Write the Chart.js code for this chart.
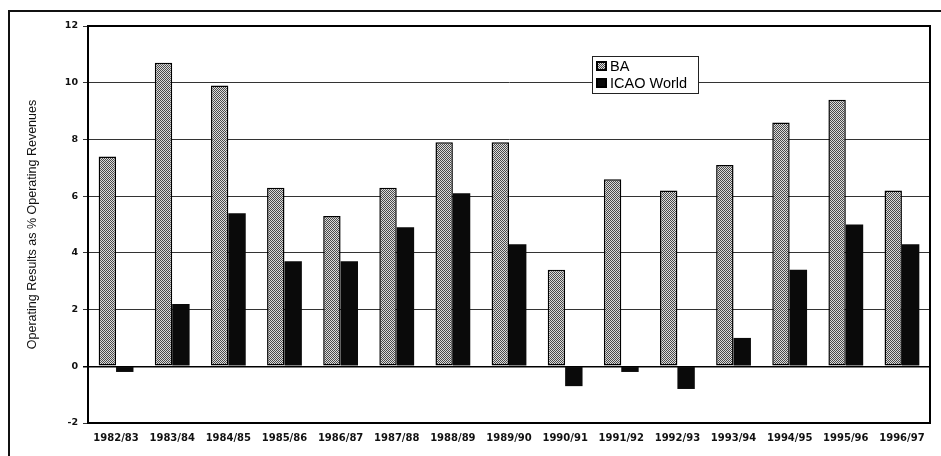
<!DOCTYPE html>
<html>
<head>
<meta charset="utf-8">
<script src="https://cdn.jsdelivr.net/npm/chart.js@4.4.1/dist/chart.umd.min.js"></script>
<style>
  html, body { margin: 0; padding: 0; background: #fff; }
  #wrap { width: 941px; height: 456px; position: relative; }
</style>
</head>
<body>
<div id="wrap"><canvas id="c" width="941" height="456"></canvas></div>
<script>
const categories = ["1982/83","1983/84","1984/85","1985/86","1986/87","1987/88","1988/89","1989/90","1990/91","1991/92","1992/93","1993/94","1994/95","1995/96","1996/97"];
const baValues   = [7.4, 10.7, 9.9, 6.3, 5.3, 6.3, 7.9, 7.9, 3.4, 6.6, 6.2, 7.1, 8.6, 9.4, 6.2];
const icaoValues = [-0.2, 2.2, 5.4, 3.7, 3.7, 4.9, 6.1, 4.3, -0.7, -0.2, -0.8, 1.0, 3.4, 5.0, 4.3];
const seriesNames = ["BA", "ICAO World"];
const yTitle = "Operating Results as % Operating Revenues";
const yMin = -2, yMax = 12, yStep = 2;

// stipple pattern for BA bars
function makePattern() {
  const pc = document.createElement('canvas');
  pc.width = 2; pc.height = 2;
  const p = pc.getContext('2d');
  p.fillStyle = '#dcdcdc'; p.fillRect(0, 0, 2, 2);
  p.fillStyle = '#4a4a4a'; p.fillRect(0, 0, 1, 1); p.fillRect(1, 1, 1, 1);
  return document.getElementById('c').getContext('2d').createPattern(pc, 'repeat');
}
const baFill = makePattern();

const framePlugin = {
  id: 'frame',
  beforeDraw(chart) {
    const ctx = chart.ctx;
    ctx.save();
    ctx.fillStyle = '#fff';
    ctx.fillRect(0, 0, chart.width, chart.height);
    ctx.strokeStyle = '#111';
    ctx.lineWidth = 2;
    ctx.strokeRect(9, 11, chart.width + 20, chart.height + 20);
    ctx.restore();
  },
  afterDatasetsDraw(chart) {
    const a = chart.chartArea, ctx = chart.ctx;
    ctx.save();
    ctx.strokeStyle = '#000';
    ctx.lineWidth = 2;
    ctx.beginPath();
    ctx.moveTo(a.left, a.top); ctx.lineTo(a.right, a.top); ctx.lineTo(a.right, a.bottom);
    ctx.stroke();
    // legend
    const lx = 592, ly = 56, lw = 106, lh = 37;
    ctx.fillStyle = '#fff';
    ctx.fillRect(lx, ly, lw, lh);
    ctx.lineWidth = 1;
    ctx.strokeStyle = '#222';
    ctx.strokeRect(lx + 0.5, ly + 0.5, lw, lh);
    const fills = [baFill, '#0a0a0a'];
    ctx.font = '14.5px "Liberation Sans", Arial, sans-serif';
    ctx.textBaseline = 'middle';
    ctx.textAlign = 'left';
    seriesNames.forEach((n, i) => {
      const cy = ly + 10 + i * 17;
      ctx.fillStyle = '#000';
      ctx.fillRect(lx + 4, cy - 5, 11, 10);
      ctx.fillStyle = fills[i];
      ctx.fillRect(lx + 6, cy - 3, 7, 6);
      ctx.fillStyle = '#000';
      ctx.fillText(n, lx + 18, cy + 1);
    });
    ctx.restore();
  }
};

new Chart(document.getElementById('c'), {
  type: 'bar',
  data: {
    labels: categories,
    datasets: [
      { label: seriesNames[0], data: baValues, backgroundColor: baFill, borderColor: '#000', borderWidth: 1.5, borderSkipped: false },
      { label: seriesNames[1], data: icaoValues, backgroundColor: '#0a0a0a', borderWidth: 0 }
    ]
  },
  options: {
    responsive: false,
    animation: false,
    events: [],
    layout: { padding: { left: 8, top: 26, right: 11, bottom: 0 } },
    datasets: { bar: { categoryPercentage: 0.62, barPercentage: 1.0 } },
    plugins: { legend: { display: false }, tooltip: { enabled: false } },
    scales: {
      x: {
        grid: { display: false, drawTicks: false },
        border: { display: true, color: '#000', width: 2 },
        ticks: { color: '#111', font: { family: '"DejaVu Sans", sans-serif', size: 10, weight: 'bold' }, padding: 9, maxRotation: 0, autoSkip: false },
        afterFit(s) { s.height = 33; }
      },
      y: {
        min: yMin, max: yMax,
        ticks: { stepSize: yStep, color: '#111', font: { family: '"DejaVu Sans", sans-serif', size: 9.5, weight: 'bold' }, padding: 5 },
        grid: {
          color: (c) => c.tick && c.tick.value === 0 ? '#000' : '#333',
          lineWidth: (c) => c.tick && c.tick.value === 0 ? 1.5 : 1,
          tickLength: 5,
          drawTicks: true
        },
        border: { display: true, color: '#000', width: 2 },
        title: { display: true, text: yTitle, color: '#111', font: { family: '"Liberation Sans", Arial, sans-serif', size: 12.5 }, padding: { top: 17.5, bottom: 0 } },
        afterFit(s) { s.width = 80; }
      }
    }
  },
  plugins: [framePlugin]
});
</script>
</body>
</html>
